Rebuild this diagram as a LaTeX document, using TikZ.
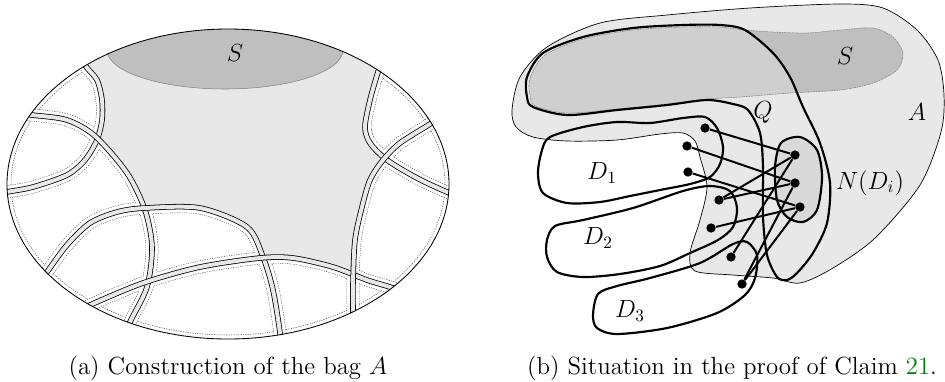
\documentclass[tikz,border=0pt]{standalone}
\usepackage{xcolor}
\definecolor{lgray}{HTML}{E8E8E8}
\definecolor{sgray}{HTML}{BFBFBF}
\definecolor{armgray}{HTML}{CFCFCF}
\definecolor{ngray}{HTML}{D9D9D9}
\definecolor{refgreen}{rgb}{0,0.5,0}
\newcommand\bA{plot[smooth] coordinates {(78,46) (85,65) (97,80) (102,100) (102,120) (97,140) (85,160) (67,175) (33,187) (7,192) (-14,197)}}
\newcommand\bB{plot[smooth] coordinates {(8,112) (32,115) (67,120) (95,136) (127,173) (145,210) (152,247) (147,287) (130,322) (120,348)}}
\newcommand\bC{plot[smooth] coordinates {(30,295) (47,272) (67,245) (90,223) (117,212) (145,208) (200,208) (247,227) (263,257) (273,290) (280,333) (282,360)}}
\newcommand\bD{plot[smooth] coordinates {(68,316) (90,305) (143,283) (200,267) (260,258) (293,258) (333,267) (367,280) (390,287) (412,295)}}
\newcommand\bE{plot[smooth] coordinates {(385,52) (378,72) (370,100) (365,127) (370,143) (387,160) (417,178) (447,192) (468,199)}}
\newcommand\bF{plot[smooth] coordinates {(447,112) (430,124) (400,143) (383,160) (370,180) (362,207) (355,240) (353,283) (353,307) (353,335)}}
\tikzset{
  dotedge/.style={line width=7.4pt, black!70, dash pattern=on 0.7pt off 0.7pt},
  whiteband/.style={line width=6.8pt, white},
  roadband/.style={line width=0.45pt, black, double=lgray, double distance=2.3pt},
  thickline/.style={line width=1.25pt, black},
  edgeline/.style={line width=1.15pt, black},
  dotnode/.style={circle, fill=black, inner sep=0pt, minimum size=5.4pt},
  lab/.style={font=\Large},
  captext/.style={font=\Large, anchor=base}
}
\begin{document}
\begin{tikzpicture}[x=0.58pt,y=-0.58pt]
\useasboundingbox (0,0) rectangle (945,381);
% ---------------- (a) ----------------
\begin{scope}
  \clip (228,184) ellipse [x radius=221, y radius=155];
  \draw[black!70, line width=0.3pt, dash pattern=on 0.7pt off 0.7pt] (228,184) ellipse [x radius=217, y radius=151];
  \draw[dotedge] \bA; \draw[dotedge] \bB; \draw[dotedge] \bC;
  \draw[dotedge] \bD; \draw[dotedge] \bE; \draw[dotedge] \bF;
  \draw[whiteband] \bA; \draw[whiteband] \bB; \draw[whiteband] \bC;
  \draw[whiteband] \bD; \draw[whiteband] \bE; \draw[whiteband] \bF;
  \begin{scope}
    \clip \bA -- (-14,420) -- (500,420) -- (500,-20) -- (78,-20) -- cycle;
    \clip \bB -- (120,420) -- (500,420) -- (500,-20) -- (8,-20) -- cycle;
    \clip \bC -- (500,420) -- (500,-20) -- (-20,-20) -- (-20,295) -- cycle;
    \clip \bD -- (500,295) -- (500,-20) -- (-20,-20) -- (-20,316) -- cycle;
    \clip \bE -- (468,420) -- (-20,420) -- (-20,-20) -- (385,-20) -- cycle;
    \clip \bF -- (353,420) -- (-20,420) -- (-20,-20) -- (447,-20) -- cycle;
    \fill[lgray] (228,184) ellipse [x radius=221, y radius=155];
  \end{scope}
  \fill[sgray] (225,50) ellipse [x radius=118, y radius=39];
  \draw[gray, line width=0.3pt] (225,50) ellipse [x radius=118, y radius=39];
  \draw[roadband] \bA; \draw[roadband] \bB; \draw[roadband] \bC;
  \draw[roadband] \bD; \draw[roadband] \bE; \draw[roadband] \bF;
\end{scope}
\draw[black, line width=0.5pt] (228,184) ellipse [x radius=221, y radius=155];
\node[lab] (Sa) at (235,53) {$S$};
% ---------------- (b) ----------------
\fill[lgray] plot[smooth cycle] coordinates {(512,110) (520,77) (547,47) (600,23) (667,15) (750,8) (840,4) (883,8) (917,30) (938,60) (944,95) (941,132) (920,185) (875,238) (833,268) (800,283) (773,278) (733,275) (695,271) (690,253) (700,220) (707,187) (700,157) (695,141) (683,133) (660,134) (617,140) (567,141) (533,137) (516,127)};
\draw[black, line width=0.4pt] plot[smooth cycle] coordinates {(512,110) (520,77) (547,47) (600,23) (667,15) (750,8) (840,4) (883,8) (917,30) (938,60) (944,95) (941,132) (920,185) (875,238) (833,268) (800,283) (773,278) (733,275) (695,271) (690,253) (700,220) (707,187) (700,157) (695,141) (683,133) (660,134) (617,140) (567,141) (533,137) (516,127)};
% S
\fill[sgray] plot[smooth cycle] coordinates {(530,95) (530,78) (545,55) (583,39) (633,30) (683,27) (720,27) (745,30) (773,32) (807,33) (840,30) (873,28) (893,37) (903,53) (897,70) (873,83) (840,90) (790,93) (740,97) (707,99) (667,104) (617,109) (567,113) (535,106)};
\begin{scope}
  \clip plot[smooth cycle] coordinates {(527,97) (527,77) (543,53) (583,37) (633,28) (683,25) (720,25) (745,30) (773,53) (790,77) (803,107) (820,143) (830,183) (827,223) (813,253) (797,273) (787,280) (777,277) (767,255) (763,217) (763,167) (760,133) (748,110) (733,104) (707,100) (667,105) (617,110) (567,115) (533,107)};
  \fill[armgray] plot[smooth cycle] coordinates {(530,95) (530,78) (545,55) (583,39) (633,30) (683,27) (720,27) (745,30) (773,32) (807,33) (840,30) (873,28) (893,37) (903,53) (897,70) (873,83) (840,90) (790,93) (740,97) (707,99) (667,104) (617,109) (567,113) (535,106)};
\end{scope}
\draw[gray, line width=0.3pt, dash pattern=on 1pt off 0.5pt] plot[smooth cycle] coordinates {(530,95) (530,78) (545,55) (583,39) (633,30) (683,27) (720,27) (745,30) (773,32) (807,33) (840,30) (873,28) (893,37) (903,53) (897,70) (873,83) (840,90) (790,93) (740,97) (707,99) (667,104) (617,109) (567,113) (535,106)};
% N(D_i)
\fill[ngray] plot[smooth cycle] coordinates {(781,143) (800,137) (817,150) (822,177) (817,210) (803,222) (787,217) (777,200) (775,167)};
% outlines
\draw[thickline] plot[smooth cycle] coordinates {(527,97) (527,77) (543,53) (583,37) (633,28) (683,25) (720,25) (745,30) (773,53) (790,77) (803,107) (820,143) (830,183) (827,223) (813,253) (797,273) (787,280) (777,277) (767,255) (763,217) (763,167) (760,133) (748,110) (733,104) (707,100) (667,105) (617,110) (567,115) (533,107)};
\draw[thickline] plot[smooth cycle] coordinates {(781,143) (800,137) (817,150) (822,177) (817,210) (803,222) (787,217) (777,200) (775,167)};
\draw[thickline] plot[smooth cycle] coordinates {(542,150) (550,137) (583,127) (617,122) (650,123) (683,118) (705,117) (717,128) (723,147) (720,164) (710,177) (690,184) (660,190) (630,196) (600,202) (567,203) (543,193) (538,173)};
\draw[thickline] plot[smooth cycle] coordinates {(547,240) (555,226) (583,220) (633,208) (683,191) (710,186) (730,191) (737,208) (733,227) (718,240) (690,253) (660,266) (620,274) (583,277) (557,272) (547,257)};
\draw[thickline] plot[smooth cycle] coordinates {(593,315) (598,294) (617,286) (650,278) (700,263) (733,244) (747,242) (757,255) (755,278) (745,295) (717,313) (667,328) (617,334) (597,328)};
% dots
\node[dotnode] (p1) at (705,128) {};
\node[dotnode] (p2) at (687,146) {};
\node[dotnode] (p3) at (688,172) {};
\node[dotnode] (p4) at (719,200) {};
\node[dotnode] (p5) at (711,228) {};
\node[dotnode] (p6) at (731,257) {};
\node[dotnode] (p7) at (742,284) {};
\node[dotnode] (n1) at (795,155) {};
\node[dotnode] (n2) at (795,183) {};
\node[dotnode] (n3) at (800,207) {};
\draw[edgeline] (p1) -- (n1);
\draw[edgeline] (p2) -- (n2);
\draw[edgeline] (p3) -- (n3);
\draw[edgeline] (p4) -- (n1);
\draw[edgeline] (p4) -- (n2);
\draw[edgeline] (p5) -- (n3);
\draw[edgeline] (p6) -- (n1);
\draw[edgeline] (p7) -- (n2);
\draw[edgeline] (p7) -- (n3);
% labels
\node[lab] (Sb) at (845,56) {$S$};
\node[lab] (Qb) at (763,112) {$Q$};
\node[lab] (Ab) at (917,112) {$A$};
\node[lab] (Nb) at (870,183) {$N(D_i)$};
\node[lab] (D1) at (602,173) {$D_1$};
\node[lab] (D2) at (598,238) {$D_2$};
\node[lab] (D3) at (630,311) {$D_3$};
% captions
\node[captext] (capa) at (228,374) {(a) Construction of the bag $A$};
\node[captext] (capb) at (732,374) {(b) Situation in the proof of Claim \textcolor{refgreen}{21}.};
\end{tikzpicture}
\end{document}
